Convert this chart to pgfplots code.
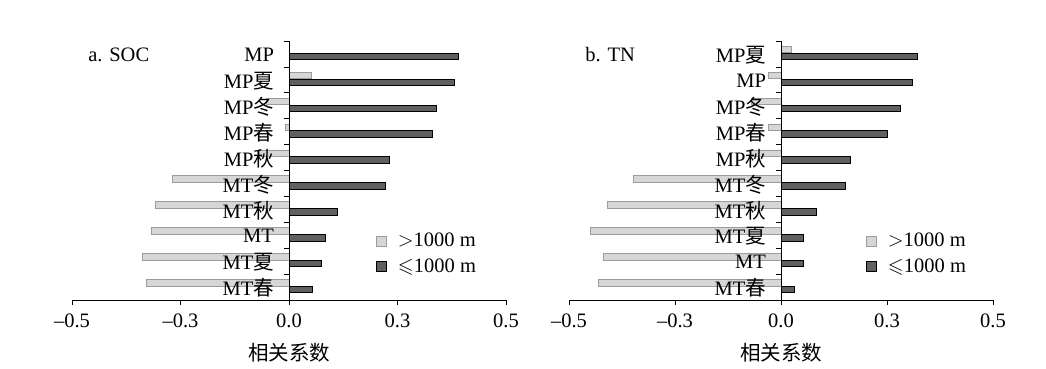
\documentclass[border=0pt]{standalone}
\usepackage{amssymb}
\usepackage{fontspec}
\setmainfont{Liberation Serif}
\newfontfamily\cjk{Noto Sans CJK SC}
\usepackage{pgfplots}
\pgfplotsset{compat=1.18}
\definecolor{lightbar}{HTML}{D6D6D6}
\definecolor{lightedge}{HTML}{9C9C9C}
\definecolor{darkbar}{HTML}{606060}
\newcommand{\fs}{\fontsize{20.5bp}{23bp}\selectfont}
\pgfplotsset{
  panel/.style={
    scale only axis, height=259bp,
    axis on top,
    xmin=-0.5, xmax=0.5, ymin=-0.5, ymax=9.5, y dir=reverse,
    axis x line=bottom, axis y line=middle,
    axis line style={-, black, line width=0.8pt},
    hide obscured x ticks=false,
    xtick={-0.5,-0.25,0,0.25,0.5},
    xticklabels={\textendash0.5,\textendash0.3,0.0,0.3,0.5},
    xticklabel style={yshift=-1.5bp},
    ytick={-0.5,0.5,...,9.5}, yticklabels={},
    extra y ticks={0,1,2,3,4,5,6,7,8,9},
    extra y tick style={major tick length=0pt, yticklabel style={xshift=-8bp, yshift=-1bp}},
    tick align=outside, major tick length=5bp,
    tick style={black, line width=0.8pt},
    tick label style={font=\fs},
    xbar, bar width=6.5bp,
    xlabel={\cjk 相关系数},
    label style={font=\fs},
    xlabel style={yshift=-2bp},
    legend style={draw=none, fill=none, at={(0.70,0.268)}, anchor=north west,
      font=\fs, row sep=5bp, inner sep=0pt},
    legend cell align=left,
    legend image code/.code={\draw[##1] (0bp,-5bp) rectangle (10bp,5bp);},
  },
  lightb/.style={fill=lightbar, draw=lightedge, line width=0.6pt, bar shift=4.5bp},
  darkb/.style={fill=darkbar, draw=black, line width=1pt, bar shift=-2.5bp},
}
\begin{document}
\fs
\begin{tikzpicture}
\useasboundingbox (0,0) rectangle (1046bp,369bp);
\begin{axis}[panel, width=434bp, at={(72bp,69bp)}, anchor=south west,
  extra y tick labels={MP,MP{\cjk 夏},MP{\cjk 冬},MP{\cjk 春},MP{\cjk 秋},MT{\cjk 冬},MT{\cjk 秋},MT,MT{\cjk 夏},MT{\cjk 春}}]
\addplot[lightb] coordinates {(0,0) (0.051,1) (-0.053,2) (-0.009,3) (-0.068,4) (-0.268,5) (-0.308,6) (-0.318,7) (-0.339,8) (-0.329,9)};
\addplot[darkb] coordinates {(0.391,0) (0.381,1) (0.341,2) (0.331,3) (0.232,4) (0.222,5) (0.112,6) (0.084,7) (0.074,8) (0.053,9)};
\legend{\hspace{9bp}${>}$1000 m, \hspace{9bp}$\leqslant$1000 m}
\node[anchor=west, inner sep=0pt, font=\fs] at (rel axis cs:0.037,0.946) {a. SOC};
\end{axis}
\begin{axis}[panel, width=424bp, at={(569bp,69bp)}, anchor=south west,
  extra y tick labels={MP{\cjk 夏},MP,MP{\cjk 冬},MP{\cjk 春},MP{\cjk 秋},MT{\cjk 冬},MT{\cjk 秋},MT{\cjk 夏},MT,MT{\cjk 春}}]
\addplot[lightb] coordinates {(0.024,0) (-0.029,1) (-0.07,2) (-0.029,3) (-0.07,4) (-0.349,5) (-0.409,6) (-0.450,7) (-0.419,8) (-0.430,9)};
\addplot[darkb] coordinates {(0.322,0) (0.311,1) (0.281,2) (0.252,3) (0.163,4) (0.152,5) (0.083,6) (0.052,7) (0.052,8) (0.033,9)};
\legend{\hspace{9bp}${>}$1000 m, \hspace{9bp}$\leqslant$1000 m}
\node[anchor=west, inner sep=0pt, font=\fs] at (rel axis cs:0.038,0.946) {b. TN};
\end{axis}
\end{tikzpicture}
\end{document}
